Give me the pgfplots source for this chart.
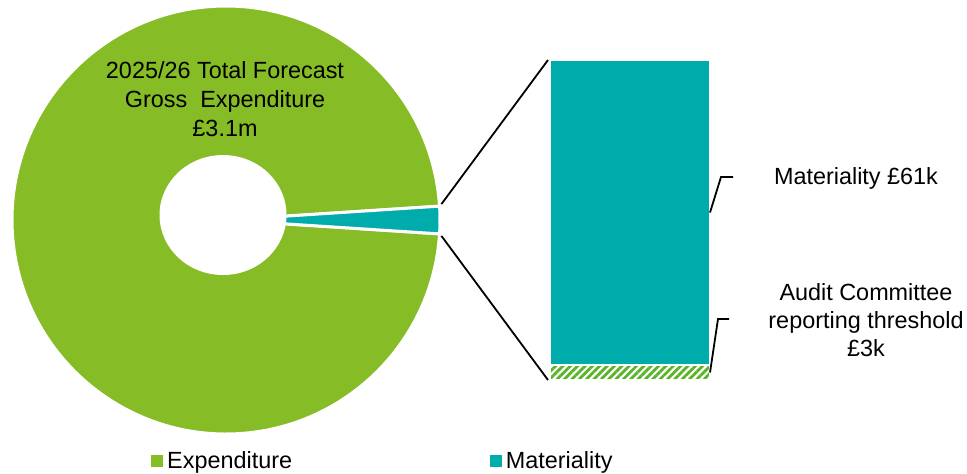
\documentclass[border=0pt]{standalone}
\usepackage{pgfplots}
\pgfplotsset{compat=1.18}
\usepackage{pgfplotstable}
\usepackage{fontspec}
\setmainfont{Liberation Sans}
\usetikzlibrary{patterns.meta}
\definecolor{expgreen}{RGB}{134,188,37}
\definecolor{hatchgreen}{RGB}{90,180,40}
\definecolor{matteal}{RGB}{0,171,171}

\pgfplotstableread{
label value
Expenditure 3036
Materiality 61
Threshold 3
}\piedata

\begin{document}
\pgfplotstablegetelem{0}{value}\of\piedata \edef\vExp{\pgfplotsretval}%
\pgfplotstablegetelem{1}{value}\of\piedata \edef\vMat{\pgfplotsretval}%
\pgfplotstablegetelem{2}{value}\of\piedata \edef\vThr{\pgfplotsretval}%
\pgfmathsetmacro{\halfang}{180*(\vMat+\vThr)/(\vExp+\vMat+\vThr)}%
\pgfmathsetmacro{\endang}{360-\halfang}%
\pgfmathsetmacro{\barmid}{\vThr+\vMat/2}%
\pgfmathsetmacro{\thrmid}{\vThr/2}%
\pgfmathsetmacro{\bartop}{\vThr+\vMat}%
\begin{tikzpicture}[font=\fontsize{11.7}{14}\selectfont]
\fill[white] (0,0) rectangle (483.5pt,-236.5pt);
% ---------- donut ----------
\begin{axis}[
  at={(113pt,-110pt)}, anchor=center,
  x=0.5pt, y=0.5pt, xmin=-230, xmax=230, ymin=-230, ymax=230,
  hide axis, clip=false,
  legend columns=2,
  legend style={draw=none, fill=none, at={(axis description cs:0.324,-0.024)}, anchor=west,
    font=\fontsize{11.7}{14}\selectfont,
    /tikz/every even column/.append style={column sep=97pt}},
  legend image code/.code={\fill[#1] (0pt,-2.75pt) rectangle (5.5pt,2.75pt);},
]
\addlegendimage{expgreen}
\addlegendentry{Expenditure}
\addlegendimage{matteal}
\addlegendentry{Materiality}
\fill[expgreen, draw=white, line width=1.5pt] (axis cs:0,0) -- (axis cs:{214*cos(\halfang)},{214*sin(\halfang)})
  arc[start angle=\halfang, end angle=\endang, radius=107pt] -- cycle;
\fill[matteal, draw=white, line width=1.5pt] (axis cs:0,0) -- (axis cs:{214*cos(\halfang)},{-214*sin(\halfang)})
  arc[start angle=-\halfang, end angle=\halfang, radius=107pt] -- cycle;
\fill[white] (axis cs:-3,5) ellipse[x radius=31.75pt, y radius=30pt];
\coordinate (cA) at (axis cs:{216*cos(\halfang+0.5)},{216*sin(\halfang+0.5)});
\coordinate (cB) at (axis cs:{216*cos(\halfang+0.5)},{-216*sin(\halfang+0.5)});
\node[align=center, font=\fontsize{11.7}{14.5}\selectfont] at (axis cs:-1,121)
  {2025/26 Total Forecast\\Gross\ \ Expenditure\\£3.1m};
\end{axis}
% ---------- bar ----------
\begin{axis}[
  at={(275pt,-190pt)}, anchor=south west,
  width=80pt, height=160pt, scale only axis,
  xmin=-0.5, xmax=0.5, ymin=0, ymax=64,
  hide axis, clip=false,
  ybar stacked, bar width=80pt,
]
\addplot[draw=white, line width=0.6pt, pattern={Lines[angle=45,distance=2.6pt,line width=1.4pt]}, pattern color=hatchgreen] coordinates {(0,3)};
\addplot[fill=matteal, draw=white, line width=0.8pt] coordinates {(0,61)};
\coordinate (bTL) at (axis cs:-0.5,\bartop);
\coordinate (bBL) at (axis cs:-0.5,0);
\coordinate (mMat) at (axis cs:0.5,\barmid);
\coordinate (mThr) at (axis cs:0.5,\thrmid);
\end{axis}
\draw[line width=0.9pt] (cA) -- ([xshift=-1pt]bTL);
\draw[line width=0.9pt] (cB) -- ([xshift=-1pt]bBL);
\draw[line width=0.9pt] (mMat) -- (360.5pt,-88.5pt) -- (366.5pt,-88.5pt);
\draw[line width=0.9pt] (mThr) -- (359pt,-159.5pt) -- (364.5pt,-159.5pt);
\node[align=center] at (428pt,-89pt) {Materiality £61k};
\node[align=center] at (433pt,-160pt) {Audit Committee\\reporting threshold\\£3k};
\pgfresetboundingbox
\path[use as bounding box] (0,0) rectangle (483.5pt,-236.5pt);
\end{tikzpicture}
\end{document}
